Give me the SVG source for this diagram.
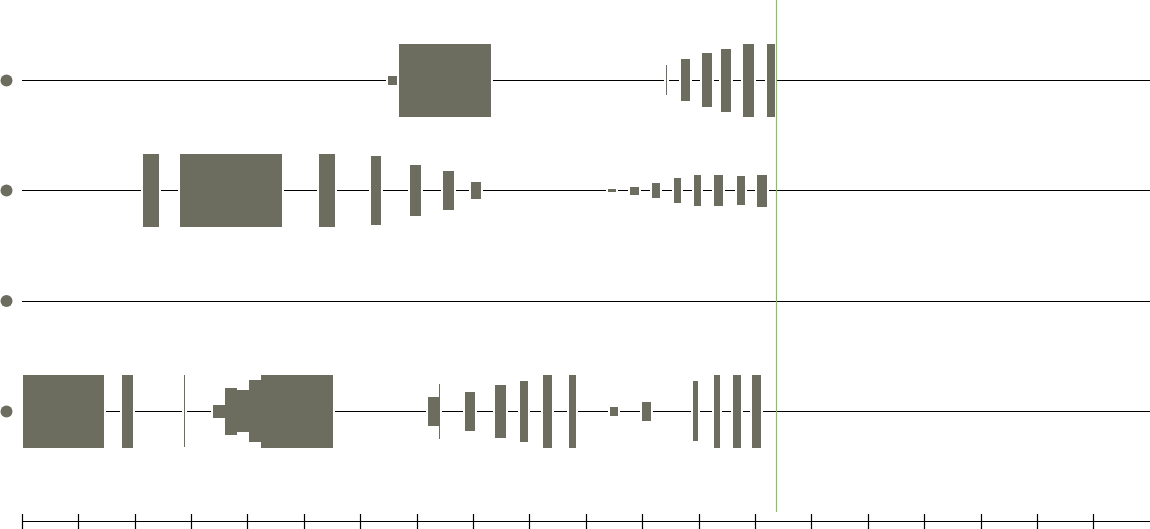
<svg xmlns="http://www.w3.org/2000/svg" width="1150" height="529" viewBox="0 0 1150 529">
<style>
.ln{stroke:#000;stroke-width:1;fill:none}
.b{fill:#6d6d5f;stroke:#fff;stroke-width:4;paint-order:stroke}
.t{fill:#6d6d5f}
.dot{fill:#6d6d5f}
.ax{stroke:#000;stroke-width:1.2;fill:none}
.cur{stroke:#84c35a;stroke-width:1.2}
</style>
<rect width="1150" height="529" fill="#fff"/>
<g id="row1">
<circle class="dot" cx="6.5" cy="80.5" r="6"/>
<line class="ln" x1="22" y1="80.5" x2="1150" y2="80.5"/>
<rect class="b" x="388" y="76" width="11" height="9"/>
<rect class="b" x="399" y="44" width="92" height="73"/>
<rect class="b" x="666" y="65" width="1" height="30"/>
<rect class="b" x="681" y="59" width="9" height="42"/>
<rect class="b" x="702" y="53" width="10" height="54"/>
<rect class="b" x="721" y="49" width="10" height="63"/>
<rect class="b" x="743" y="44" width="11" height="73"/>
<rect class="b" x="767" y="44" width="8" height="73"/>
</g>
<g id="row2">
<circle class="dot" cx="6.5" cy="190.5" r="6"/>
<line class="ln" x1="22" y1="190.5" x2="1150" y2="190.5"/>
<rect class="b" x="143" y="154" width="16" height="73"/>
<rect class="b" x="180" y="154" width="102" height="73"/>
<rect class="b" x="319" y="154" width="16" height="73"/>
<rect class="b" x="371" y="156" width="10" height="69"/>
<rect class="b" x="410" y="165" width="11" height="51"/>
<rect class="b" x="443" y="171" width="11" height="39"/>
<rect class="b" x="471" y="182" width="10" height="17"/>
<rect class="b" x="608" y="189" width="8" height="3"/>
<rect class="b" x="630" y="187" width="9" height="8"/>
<rect class="b" x="652" y="183" width="8" height="15"/>
<rect class="b" x="674" y="178" width="7" height="25"/>
<rect class="b" x="694" y="175" width="7" height="31"/>
<rect class="b" x="714" y="175" width="9" height="31"/>
<rect class="b" x="737" y="176" width="8" height="29"/>
<rect class="b" x="757" y="175" width="10" height="32"/>
</g>
<g id="row3">
<circle class="dot" cx="6.5" cy="301" r="6"/>
<line class="ln" x1="22" y1="301.5" x2="1150" y2="301.5"/>
</g>
<g id="row4">
<circle class="dot" cx="6.5" cy="411.5" r="6"/>
<line class="ln" x1="22" y1="411.5" x2="1150" y2="411.5"/>
<rect class="b" x="23" y="375" width="81" height="73"/>
<rect class="b" x="122" y="375" width="11" height="73"/>
<rect class="b" x="184" y="375" width="1" height="72"/>
<path class="b" d="M213 405H225V388H237V390H249V380H261V375H333V448H261V442H249V432H237V435H225V418H213Z"/>
<rect class="b" x="428" y="397" width="12" height="29"/>
<rect class="t" x="439" y="384" width="1" height="55"/>
<rect class="b" x="465" y="392" width="10" height="39"/>
<rect class="b" x="495" y="385" width="11" height="53"/>
<rect class="b" x="520" y="381" width="8" height="61"/>
<rect class="b" x="543" y="375" width="9" height="73"/>
<rect class="b" x="569" y="375" width="7" height="73"/>
<rect class="b" x="610" y="407" width="8" height="9"/>
<rect class="b" x="642" y="402" width="9" height="19"/>
<rect class="b" x="693" y="381" width="5" height="60"/>
<rect class="b" x="714" y="375" width="6" height="73"/>
<rect class="b" x="733" y="375" width="8" height="73"/>
<rect class="b" x="752" y="375" width="9" height="73"/>
</g>
<g id="axis">
<line class="ax" x1="22" y1="521.5" x2="1150" y2="521.5"/>
<path class="ax" d="M22.5 514V529M78.5 514V529M135.5 514V529M191.5 514V529M247.5 514V529M304.5 514V529M360.5 514V529M417.5 514V529M473.5 514V529M529.5 514V529M586.5 514V529M642.5 514V529M699.5 514V529M755.5 514V529M811.5 514V529M868.5 514V529M924.5 514V529M981.5 514V529M1037.5 514V529M1093.5 514V529"/>
</g>
<g id="connectors">
<line class="cur" x1="776.5" y1="0" x2="776.5" y2="512"/>
</g>
</svg>
